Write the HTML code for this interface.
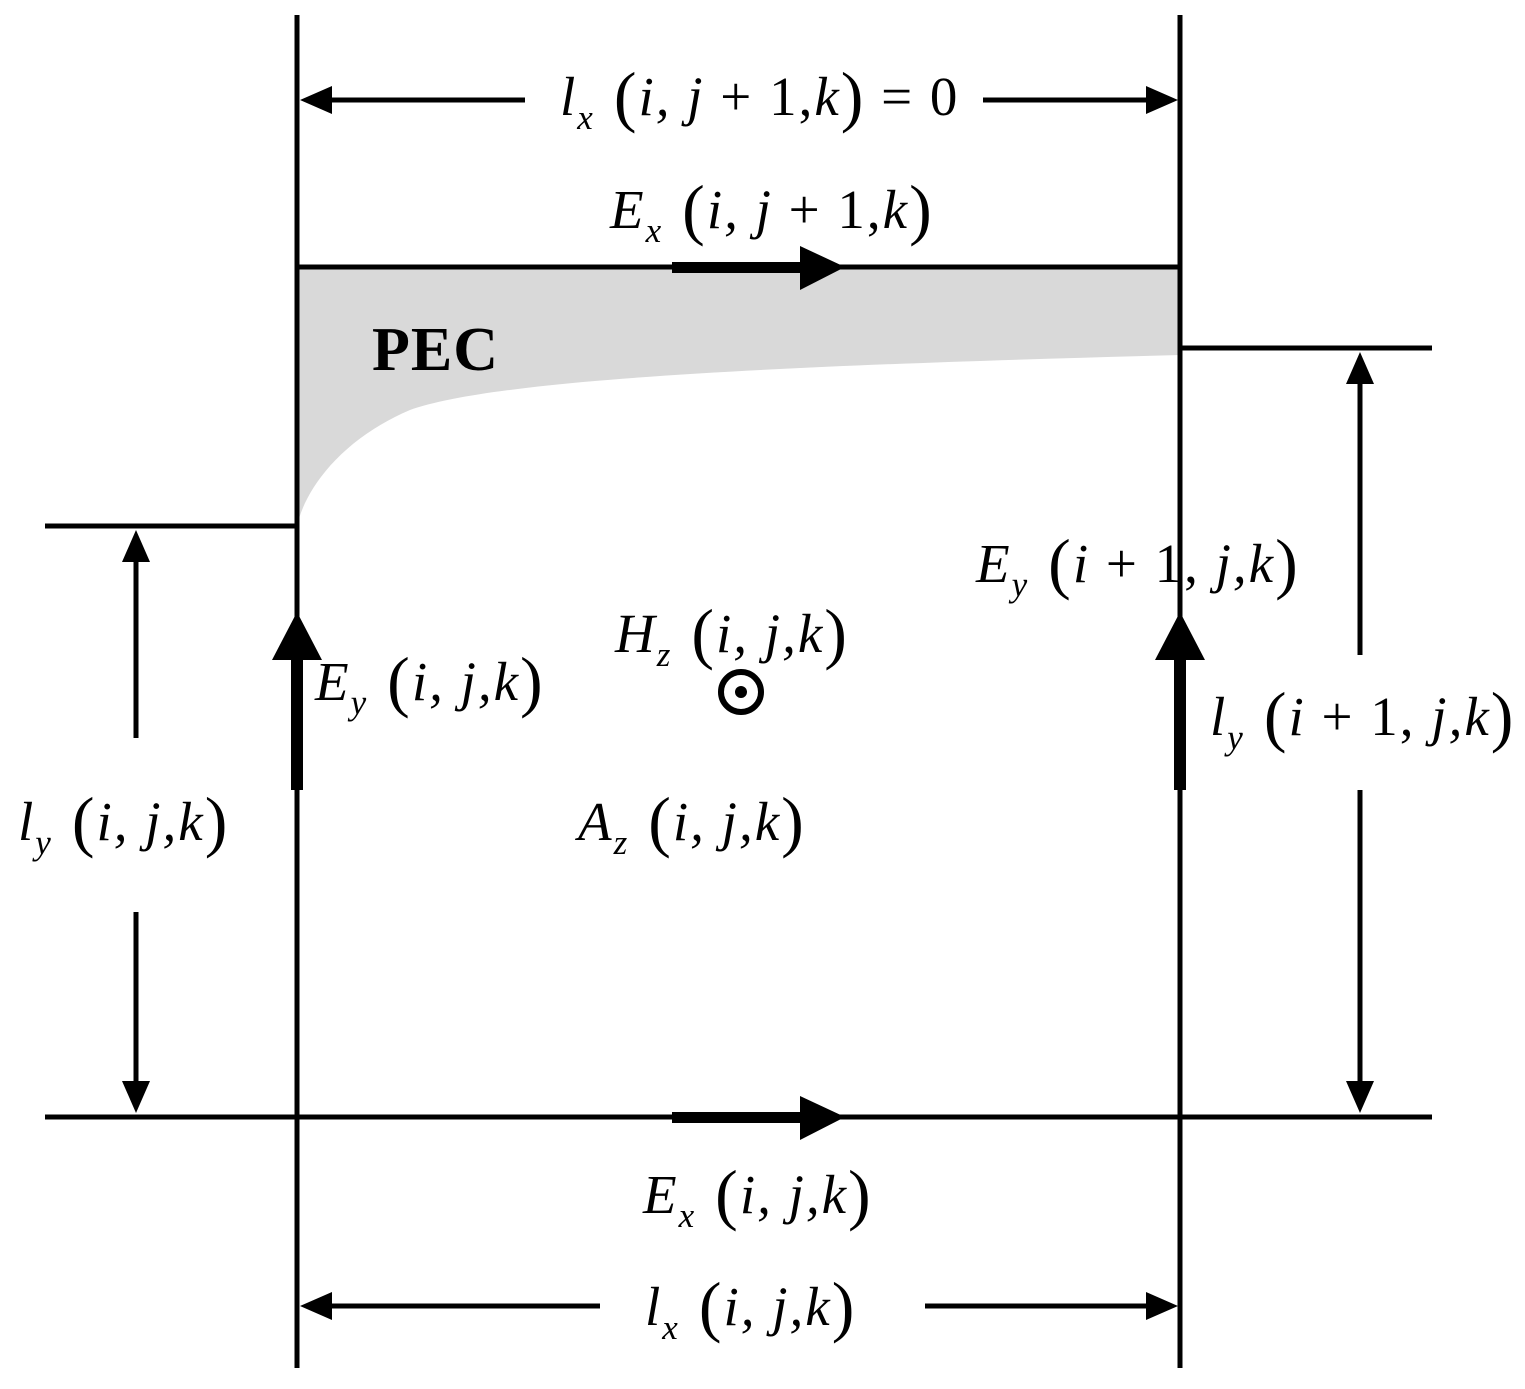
<!DOCTYPE html>
<html><head><meta charset="utf-8"><style>
html,body{margin:0;padding:0;background:#fff}
svg{display:block}
text{font-family:"Liberation Serif",serif;font-size:55px;fill:#000;letter-spacing:2px}
.i{font-style:italic}
.p{font-size:68px;font-style:normal}
.s{font-size:35px;font-style:italic}
</style></head><body>
<svg width="1525" height="1389" viewBox="0 0 1525 1389" xmlns="http://www.w3.org/2000/svg">
<path d="M297,267 L1180,267 L1180,355 C800,365 500,378 410,410 C340,440 305,490 297,526 Z" fill="#d9d9d9"/>
<g stroke="#000" stroke-width="5" fill="none">
<line x1="297" y1="15" x2="297" y2="1368"/>
<line x1="1180" y1="15" x2="1180" y2="1368"/>
<line x1="297" y1="267" x2="1180" y2="267"/>
<line x1="45" y1="1117" x2="1432" y2="1117"/>
<line x1="45" y1="526" x2="297" y2="526"/>
<line x1="1180" y1="348" x2="1432" y2="348"/>
<line x1="320" y1="100" x2="525" y2="100"/>
<line x1="983" y1="100" x2="1158" y2="100"/>
<line x1="320" y1="1306" x2="600" y2="1306"/>
<line x1="925" y1="1306" x2="1158" y2="1306"/>
<line x1="136" y1="550" x2="136" y2="738"/>
<line x1="136" y1="912" x2="136" y2="1093"/>
<line x1="1360" y1="372" x2="1360" y2="655"/>
<line x1="1360" y1="790" x2="1360" y2="1093"/>
</g>
<g fill="#000">
<polygon points="300,100 332,86 332,114"/>
<polygon points="1178,100 1146,86 1146,114"/>
<polygon points="300,1306 332,1292 332,1320"/>
<polygon points="1178,1306 1146,1292 1146,1320"/>
<polygon points="136,530 122,562 150,562"/>
<polygon points="136,1113 122,1081 150,1081"/>
<polygon points="1360,352 1346,384 1374,384"/>
<polygon points="1360,1113 1346,1081 1374,1081"/>
<rect x="672" y="262" width="130" height="11"/>
<polygon points="800,246 845,267 800,290"/>
<rect x="672" y="1112" width="130" height="11"/>
<polygon points="800,1096 845,1117 800,1140"/>
<rect x="291" y="655" width="12" height="135"/>
<polygon points="272,660 297,612 322,660"/>
<rect x="1174" y="655" width="12" height="135"/>
<polygon points="1155,660 1180,612 1205,660"/>
</g>
<circle cx="741" cy="692" r="20" fill="none" stroke="#000" stroke-width="6"/>
<circle cx="741" cy="692" r="6" fill="#000"/>
<text x="372" y="370" style="font-weight:bold;font-size:62px;letter-spacing:1px">PEC</text>
<text x="560" y="115"><tspan class="i">l</tspan><tspan class="s" dy="14">x</tspan><tspan class="p" dy="-10"> (</tspan><tspan class="i" dy="-4">i, j</tspan><tspan> + 1,</tspan><tspan class="i">k</tspan><tspan class="p" dy="4">)</tspan><tspan dy="-4"> = 0</tspan></text>
<text x="610" y="228"><tspan class="i">E</tspan><tspan class="s" dy="14">x</tspan><tspan class="p" dy="-10"> (</tspan><tspan class="i" dy="-4">i, j</tspan><tspan> + 1,</tspan><tspan class="i">k</tspan><tspan class="p" dy="4">)</tspan></text>
<text x="976" y="582"><tspan class="i">E</tspan><tspan class="s" dy="14">y</tspan><tspan class="p" dy="-10"> (</tspan><tspan class="i" dy="-4">i</tspan><tspan> + 1, </tspan><tspan class="i">j,k</tspan><tspan class="p" dy="4">)</tspan></text>
<text x="615" y="652"><tspan class="i">H</tspan><tspan class="s" dy="14">z</tspan><tspan class="p" dy="-10"> (</tspan><tspan class="i" dy="-4">i, j,k</tspan><tspan class="p" dy="4">)</tspan></text>
<text x="315" y="700"><tspan class="i">E</tspan><tspan class="s" dy="14">y</tspan><tspan class="p" dy="-10"> (</tspan><tspan class="i" dy="-4">i, j,k</tspan><tspan class="p" dy="4">)</tspan></text>
<text x="1210" y="735"><tspan class="i">l</tspan><tspan class="s" dy="14">y</tspan><tspan class="p" dy="-10"> (</tspan><tspan class="i" dy="-4">i</tspan><tspan> + 1, </tspan><tspan class="i">j,k</tspan><tspan class="p" dy="4">)</tspan></text>
<text x="18" y="840"><tspan class="i">l</tspan><tspan class="s" dy="14">y</tspan><tspan class="p" dy="-10"> (</tspan><tspan class="i" dy="-4">i, j,k</tspan><tspan class="p" dy="4">)</tspan></text>
<text x="578" y="840"><tspan class="i">A</tspan><tspan class="s" dy="14">z</tspan><tspan class="p" dy="-10"> (</tspan><tspan class="i" dy="-4">i, j,k</tspan><tspan class="p" dy="4">)</tspan></text>
<text x="643" y="1213"><tspan class="i">E</tspan><tspan class="s" dy="14">x</tspan><tspan class="p" dy="-10"> (</tspan><tspan class="i" dy="-4">i, j,k</tspan><tspan class="p" dy="4">)</tspan></text>
<text x="645" y="1325"><tspan class="i">l</tspan><tspan class="s" dy="14">x</tspan><tspan class="p" dy="-10"> (</tspan><tspan class="i" dy="-4">i, j,k</tspan><tspan class="p" dy="4">)</tspan></text>
</svg>
</body></html>
